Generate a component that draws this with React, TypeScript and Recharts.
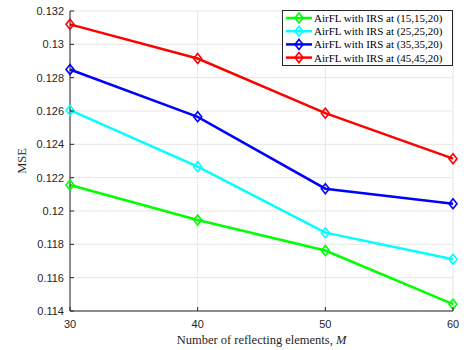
import React from 'react';
import { LineChart, Line, XAxis, YAxis, CartesianGrid, Legend } from 'recharts';

const elements = [30, 40, 50, 60];
const mse15 = [0.12156, 0.11946, 0.11763, 0.11441];
const mse25 = [0.12605, 0.12266, 0.1187, 0.11711];
const mse35 = [0.12849, 0.12565, 0.12134, 0.12044];
const mse45 = [0.1312, 0.12915, 0.12587, 0.12314];

const seriesKeys = ['s15', 's25', 's35', 's45'];
const seriesNames = [
  'AirFL with IRS at (15,15,20)',
  'AirFL with IRS at (25,25,20)',
  'AirFL with IRS at (35,35,20)',
  'AirFL with IRS at (45,45,20)',
];
const seriesColors = ['#00ff00', '#00ffff', '#0000ff', '#ff0000'];

const xTicks = [30, 40, 50, 60];
const yTicks = [0.114, 0.116, 0.118, 0.12, 0.122, 0.124, 0.126, 0.128, 0.13, 0.132];

const data = elements.map((m, i) => ({
  m,
  s15: mse15[i],
  s25: mse25[i],
  s35: mse35[i],
  s45: mse45[i],
}));

const AXIS = '#262626';
const SANS = '"Liberation Sans", Arial, sans-serif';
const SERIF = '"Liberation Serif", "Times New Roman", serif';
const TICK_LEN = 4;

const fmtY = (v: number) => String(Number(v.toFixed(3)));

const Diamond = (props: any) => {
  const { cx, cy, stroke } = props;
  if (cx == null || cy == null) return null;
  return (
    <path
      d={`M${cx},${cy - 5} L${cx + 4},${cy} L${cx},${cy + 5} L${cx - 4},${cy} Z`}
      fill="none"
      stroke={stroke}
      strokeWidth={1.6}
    />
  );
};

const LeftTick = (props: any) => {
  const { x, y, payload } = props;
  return (
    <g>
      <text x={x} y={y} dy={4} textAnchor="end" fontSize={11} fontFamily={SANS} fill={AXIS}>
        {fmtY(payload.value)}
      </text>
      <line x1={x + 6} x2={x + 6 + TICK_LEN} y1={y} y2={y} stroke={AXIS} />
    </g>
  );
};

const BottomTick = (props: any) => {
  const { x, y, payload } = props;
  return (
    <g>
      <text x={x} y={y} dy="0.71em" textAnchor="middle" fontSize={11} fontFamily={SANS} fill={AXIS}>
        {payload.value}
      </text>
      <line x1={x} x2={x} y1={y - 9} y2={y - 9 - TICK_LEN} stroke={AXIS} />
    </g>
  );
};

const RightTick = (props: any) => {
  const { x, y } = props;
  return <line x1={x - TICK_LEN} x2={x} y1={y} y2={y} stroke={AXIS} />;
};

const TopTick = (props: any) => {
  const { x, y } = props;
  return <line x1={x} x2={x} y1={y} y2={y + TICK_LEN} stroke={AXIS} />;
};

const LegendBox = () => (
  <div
    style={{
      border: `1px solid ${AXIS}`,
      background: '#fff',
      width: 169,
      height: 54,
      boxSizing: 'content-box',
    }}
  >
    <svg width={169} height={54} style={{ display: 'block' }}>
      {seriesNames.map((name, i) => {
        const cy = 7 + i * 13.2;
        return (
          <g key={name}>
            <line x1={3} x2={29} y1={cy} y2={cy} stroke={seriesColors[i]} strokeWidth={2.5} />
            <Diamond cx={16} cy={cy} stroke={seriesColors[i]} />
            <text x={31} y={cy} dy={4} fontSize={11} fontFamily={SERIF} fill="#000">
              {name}
            </text>
          </g>
        );
      })}
    </svg>
  </div>
);

export default function App() {
  return (
    <div style={{ position: 'absolute', left: 0, top: 0, background: '#fff' }}>
      <LineChart width={469} height={350} data={data} margin={{ top: 11, right: 16, bottom: 0, left: 0 }}>
        <CartesianGrid stroke="#e6e6e6" strokeWidth={1} />
        <XAxis
          dataKey="m"
          type="number"
          domain={[30, 60]}
          ticks={xTicks}
          interval={0}
          height={39}
          tickSize={0}
          tickMargin={9}
          tickLine={false}
          axisLine={{ stroke: AXIS }}
          tick={<BottomTick />}
          label={(p: any) => {
            const { viewBox } = p;
            const cx = viewBox.x + viewBox.width / 2;
            return (
              <text x={cx} y={viewBox.y + 33} textAnchor="middle" fontSize={12.5} fontFamily={SERIF} fill={AXIS}>
                Number of reflecting elements, <tspan fontStyle="italic">M</tspan>
              </text>
            );
          }}
        />
        <XAxis
          xAxisId="top"
          orientation="top"
          type="number"
          domain={[30, 60]}
          ticks={xTicks}
          interval={0}
          height={0}
          tickSize={0}
          tickMargin={0}
          tickLine={false}
          axisLine={{ stroke: AXIS }}
          tick={<TopTick />}
          allowDataOverflow
        />
        <YAxis
          type="number"
          domain={[0.114, 0.132]}
          ticks={yTicks}
          interval={0}
          width={70}
          tickSize={0}
          tickMargin={6}
          tickLine={false}
          axisLine={{ stroke: AXIS }}
          tick={<LeftTick />}
          allowDataOverflow
          label={(p: any) => {
            const { viewBox } = p;
            const cy = viewBox.y + viewBox.height / 2;
            return (
              <text
                x={22}
                y={cy}
                textAnchor="middle"
                fontSize={12.5}
                fontFamily={SERIF}
                fill={AXIS}
                transform={`rotate(-90, 22, ${cy})`}
                dy={4}
              >
                MSE
              </text>
            );
          }}
        />
        <YAxis
          yAxisId="right"
          orientation="right"
          type="number"
          domain={[0.114, 0.132]}
          ticks={yTicks}
          interval={0}
          width={0}
          tickSize={0}
          tickMargin={0}
          tickLine={false}
          axisLine={{ stroke: AXIS }}
          tick={<RightTick />}
          allowDataOverflow
        />
        {seriesKeys.map((k, i) => (
          <Line
            key={k}
            dataKey={k}
            name={seriesNames[i]}
            stroke={seriesColors[i]}
            strokeWidth={2.5}
            dot={<Diamond />}
            activeDot={false}
            isAnimationActive={false}
          />
        ))}
        <Legend
          layout="horizontal"
          verticalAlign="middle"
          align="center"
          content={() => <LegendBox />}
          wrapperStyle={{ top: 10, left: 282, width: 171, height: 56 }}
        />
      </LineChart>
    </div>
  );
}
